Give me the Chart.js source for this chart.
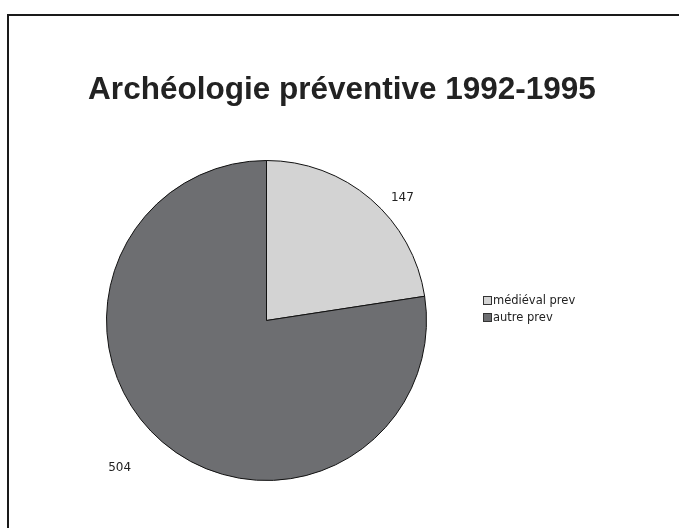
<!DOCTYPE html>
<html>
<head>
<meta charset="utf-8">
<script src="https://cdn.jsdelivr.net/npm/chart.js@4"></script>
<style>
  html, body { margin: 0; padding: 0; background: #fff; }
  #wrap { width: 679px; height: 528px; }
</style>
</head>
<body>
<div id="wrap"><canvas id="chart" width="679" height="528"></canvas></div>
<script>
const TITLE = 'Archéologie préventive 1992-1995';
const categories = ['médiéval prev', 'autre prev'];
const values = [147, 504];
const colours = ['#d3d3d3', '#6d6e71'];

// frame, title, legend and value labels
const decor = {
  id: 'decor',
  beforeDraw(chart) {
    const ctx = chart.ctx;
    ctx.save();
    ctx.strokeStyle = '#1a1a1a';
    ctx.lineWidth = 2;
    ctx.strokeRect(8, 15, 900, 900);
    ctx.restore();
  },
  afterDraw(chart) {
    const ctx = chart.ctx;
    ctx.save();
    ctx.fillStyle = '#222';
    ctx.font = 'bold 31.5px "Liberation Sans", Arial, sans-serif';
    ctx.textAlign = 'center';
    ctx.textBaseline = 'middle';
    ctx.fillText(TITLE, 342, 90);

    // legend
    ctx.font = '11.5px "DejaVu Sans", Verdana, sans-serif';
    ctx.textAlign = 'left';
    categories.forEach((c, i) => {
      let y = 301 + i * 17;
      ctx.fillStyle = colours[i];
      ctx.fillRect(484, y - 4, 7, 7);
      ctx.strokeStyle = '#333';
      ctx.lineWidth = 1;
      ctx.strokeRect(483.5, y - 4.5, 8, 8);
      ctx.fillStyle = '#222';
      ctx.fillText(c, 493, y);
    });

    // value labels outside slices
    ctx.font = '12px "DejaVu Sans", Verdana, sans-serif';
    ctx.textAlign = 'center';
    const meta = chart.getDatasetMeta(0);
    meta.data.forEach((arc, i) => {
      let a = (arc.startAngle + arc.endAngle) / 2 + 0.1;
      let r = arc.outerRadius + 25 + 30 * Math.max(0, Math.sin(a));
      ctx.fillStyle = '#222';
      ctx.fillText(values[i], arc.x + Math.cos(a) * r + 2, arc.y + Math.sin(a) * r + 5);
    });
    ctx.restore();
  }
};

new Chart(document.getElementById('chart'), {
  type: 'pie',
  data: {
    labels: categories,
    datasets: [{
      data: values,
      backgroundColor: colours,
      borderColor: '#111',
      borderWidth: 1
    }]
  },
  options: {
    responsive: false,
    animation: false,
    layout: { padding: { left: 106, right: 252, top: 160, bottom: 47 } },
    plugins: {
      legend: { display: false },
      tooltip: { enabled: false }
    }
  },
  plugins: [decor]
});
</script>
</body>
</html>
